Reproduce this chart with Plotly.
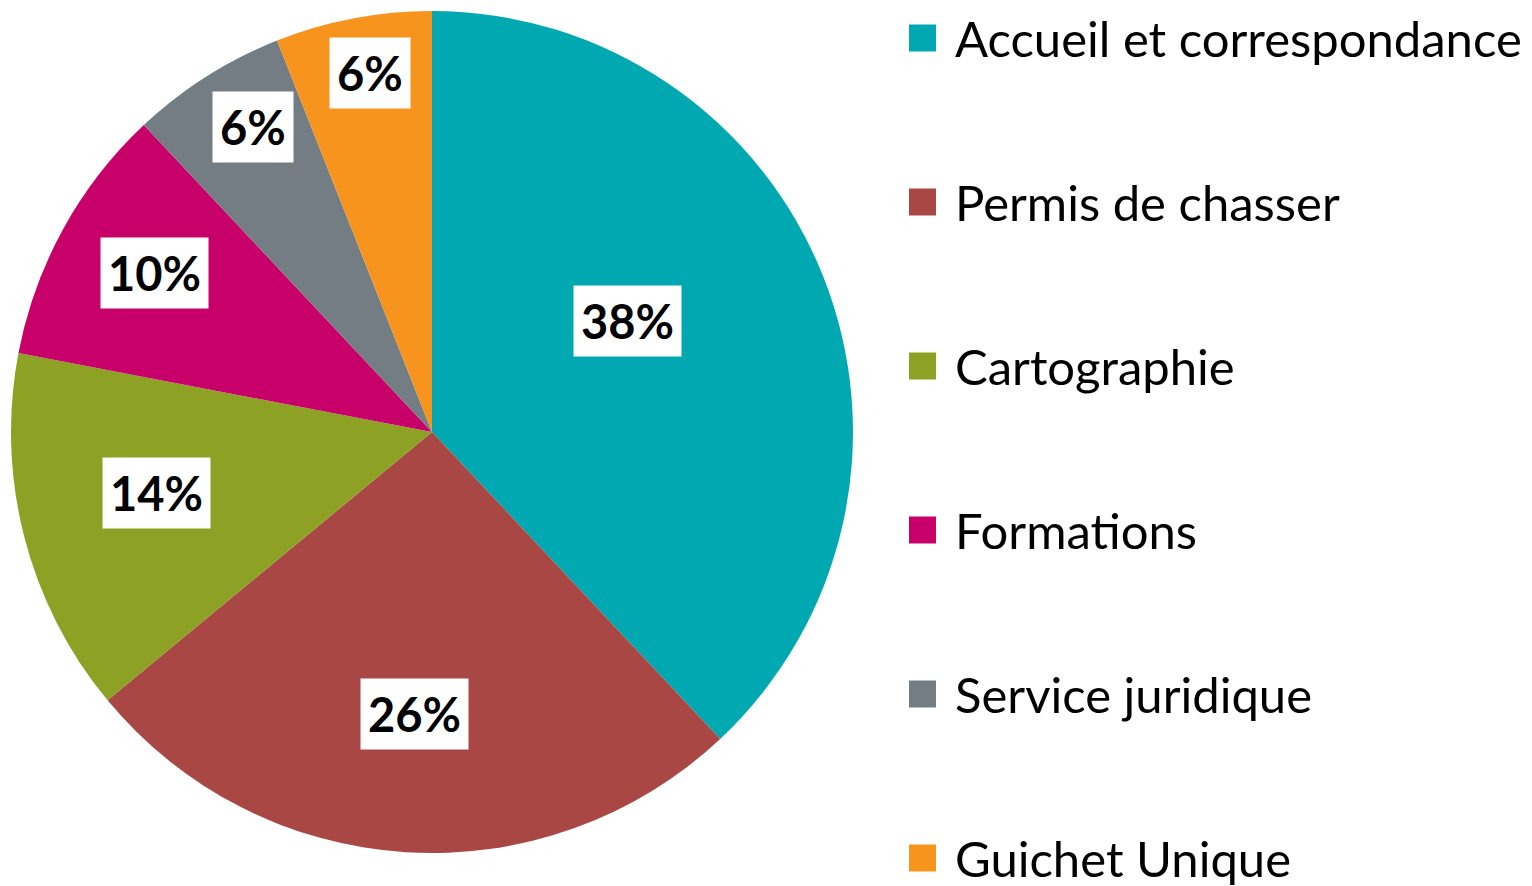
import math
import plotly.graph_objects as go

categories = ["Accueil et correspondance", "Permis de chasser", "Cartographie",
              "Formations", "Service juridique", "Guichet Unique"]
values = [38, 26, 14, 10, 6, 6]
colors = ["#00A9B1", "#A94744", "#8DA125", "#C8006A", "#737D83", "#F7941E"]

OFF = 8  # page body margin of the browser
W, H = 1532 - OFF, 886 - OFF
CX, CY, R = 432 - OFF, 432 - OFF, 421  # pie centre / radius in figure px
# label placement (fraction of radius, angle offset in degrees)
label_r = [0.535, 0.67, 0.67, 0.76, 0.84, 0.865]
label_da = [-8, 0, 2, 1, 2, 1]

FONT = "Lato"

fig = go.Figure()
fig.add_trace(go.Pie(
    labels=categories, values=values, sort=False, direction="clockwise",
    rotation=0, marker=dict(colors=colors, line=dict(width=0)),
    textinfo="none", hoverinfo="label+percent", showlegend=False,
    domain=dict(x=[(CX - R) / W, (CX + R) / W], y=[1 - (CY + R) / H, 1 - (CY - R) / H]),
))

total = sum(values)
annotations = []
shapes = []
cum = 0
for i, v in enumerate(values):
    mid = (cum + v / 2) / total * 360 + label_da[i]
    cum += v
    rr = label_r[i] * R
    px = CX + rr * math.sin(math.radians(mid))
    py = CY - rr * math.cos(math.radians(mid))
    annotations.append(dict(
        x=px / W, y=1 - py / H, xref="paper", yref="paper",
        text=f"<b>{round(v / total * 100)}%</b>", showarrow=False,
        font=dict(family=FONT, size=47, color="black"),
        bgcolor="white", borderpad=7, xanchor="center", yanchor="middle"))

# legend
LEG_Y0, LEG_DY, SQ, SQ_X, TXT_X = 38 - OFF, 164, 27, 909 - OFF, 953 - OFF
for i, (c, col) in enumerate(zip(categories, colors)):
    yc = LEG_Y0 + i * LEG_DY
    shapes.append(dict(type="rect", xref="paper", yref="paper",
                       x0=SQ_X / W, x1=(SQ_X + SQ) / W,
                       y0=1 - (yc + SQ / 2) / H, y1=1 - (yc - SQ / 2) / H,
                       fillcolor=col, line=dict(width=0)))
    annotations.append(dict(
        x=TXT_X / W, y=1 - yc / H, xref="paper", yref="paper", text=c,
        showarrow=False, xanchor="left", yanchor="middle",
        font=dict(family=FONT, size=49, color="black")))

fig.update_layout(
    width=W, height=H, margin=dict(l=0, r=0, t=0, b=0),
    paper_bgcolor="white", plot_bgcolor="white",
    annotations=annotations, shapes=shapes,
)
fig.write_html("out.html")
